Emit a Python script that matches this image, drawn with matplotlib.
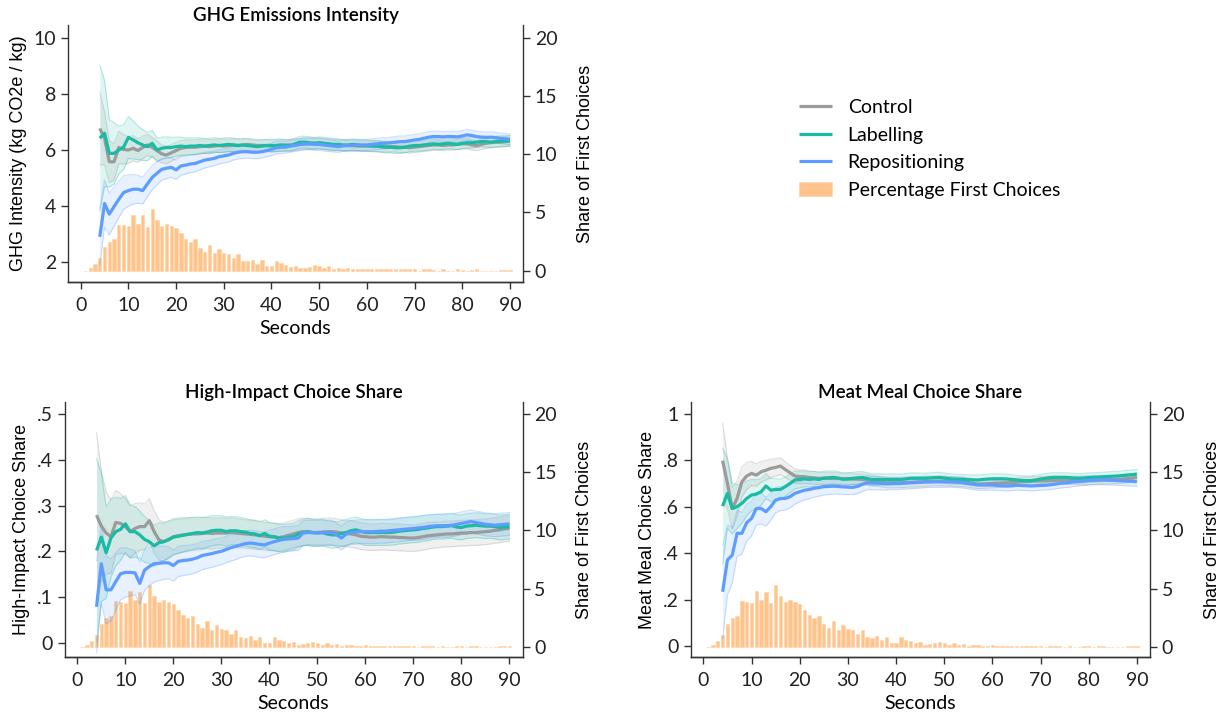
import numpy as np
import matplotlib
matplotlib.use('Agg')
import matplotlib.pyplot as plt

plt.rcParams['font.family'] = ['Lato', 'DejaVu Sans']

# seconds for the lines (4..90) and the bars (1..90)
secs = list(range(4, 91))
bar_secs = list(range(1, 91))

# percentage of first choices per second (same in each panel)
first_choices = [
    0.00, 0.20, 0.52, 1.06, 1.99, 2.47, 2.68, 3.94, 3.88, 3.80,
    4.78, 4.03, 4.75, 3.77, 5.32, 4.37, 3.83, 4.03, 3.83, 3.65,
    3.19, 2.73, 2.47, 2.68, 1.96, 1.61, 2.24, 1.47, 1.87, 1.53,
    1.44, 1.12, 1.44, 0.86, 0.78, 0.95, 0.60, 0.89, 0.35, 0.35,
    0.86, 0.63, 0.49, 0.32, 0.40, 0.20, 0.26, 0.32, 0.46, 0.35,
    0.20, 0.35, 0.15, 0.26, 0.09, 0.20, 0.17, 0.09, 0.12, 0.15,
    0.09, 0.12, 0.12, 0.09, 0.12, 0.12, 0.09, 0.12, 0.09, 0.12,
    0.00, 0.09, 0.09, 0.06, 0.00, 0.09, 0.00, 0.00, 0.09, 0.06,
    0.00, 0.06, 0.12, 0.00, 0.00, 0.00, 0.00, 0.06, 0.06, 0.06]

# ---- GHG emissions intensity ----
ghg_control = [
    6.77, 6.42, 5.58, 5.58, 6.09, 6.02, 6.00, 6.06, 5.98, 6.09,
    6.18, 6.09, 5.98, 5.86, 5.82, 5.90, 5.98, 6.06, 6.09, 6.10,
    6.10, 6.12, 6.14, 6.12, 6.14, 6.16, 6.14, 6.16, 6.18, 6.16,
    6.18, 6.20, 6.18, 6.16, 6.16, 6.16, 6.14, 6.16, 6.16, 6.18,
    6.18, 6.20, 6.20, 6.22, 6.22, 6.24, 6.24, 6.22, 6.20, 6.18,
    6.18, 6.16, 6.16, 6.16, 6.14, 6.14, 6.14, 6.14, 6.14, 6.12,
    6.12, 6.12, 6.12, 6.10, 6.10, 6.08, 6.10, 6.12, 6.14, 6.16,
    6.18, 6.18, 6.16, 6.18, 6.18, 6.20, 6.22, 6.22, 6.18, 6.16,
    6.20, 6.24, 6.26, 6.28, 6.28, 6.30, 6.32]
ghg_label = [
    6.42, 6.60, 5.88, 5.88, 6.00, 6.10, 6.45, 6.36, 6.26, 6.18,
    6.12, 6.24, 6.00, 6.06, 6.09, 6.09, 6.12, 6.14, 6.12, 6.14,
    6.14, 6.16, 6.14, 6.16, 6.18, 6.16, 6.18, 6.20, 6.18, 6.16,
    6.18, 6.16, 6.14, 6.12, 6.14, 6.16, 6.16, 6.16, 6.18, 6.16,
    6.16, 6.22, 6.28, 6.28, 6.26, 6.24, 6.26, 6.24, 6.22, 6.20,
    6.20, 6.18, 6.18, 6.20, 6.18, 6.16, 6.16, 6.14, 6.14, 6.12,
    6.10, 6.10, 6.08, 6.08, 6.10, 6.14, 6.16, 6.16, 6.18, 6.20,
    6.22, 6.20, 6.22, 6.24, 6.22, 6.20, 6.24, 6.26, 6.26, 6.28,
    6.30, 6.30, 6.28, 6.30, 6.32, 6.32, 6.33]
ghg_repos = [
    2.90, 4.09, 3.71, 3.98, 4.24, 4.48, 4.55, 4.60, 4.60, 4.55,
    4.79, 5.02, 5.17, 5.31, 5.35, 5.38, 5.29, 5.43, 5.46, 5.50,
    5.52, 5.58, 5.64, 5.67, 5.70, 5.76, 5.79, 5.82, 5.88, 5.92,
    5.94, 5.94, 5.92, 5.92, 5.94, 5.98, 6.02, 6.08, 6.10, 6.10,
    6.14, 6.16, 6.20, 6.22, 6.22, 6.20, 6.20, 6.18, 6.16, 6.14,
    6.12, 6.15, 6.16, 6.16, 6.18, 6.18, 6.18, 6.20, 6.22, 6.24,
    6.24, 6.26, 6.28, 6.30, 6.30, 6.33, 6.36, 6.38, 6.42, 6.46,
    6.48, 6.48, 6.47, 6.48, 6.48, 6.47, 6.50, 6.54, 6.52, 6.48,
    6.46, 6.45, 6.46, 6.44, 6.42, 6.40, 6.38]
# half-widths of the confidence bands
ghg_control_ci = [
    1.30, 0.95, 0.75, 0.65, 0.58, 0.52, 0.48, 0.45, 0.42, 0.40,
    0.38, 0.36, 0.34, 0.32, 0.31, 0.30, 0.29, 0.28, 0.27, 0.27,
    0.26, 0.26, 0.25, 0.25, 0.24, 0.24, 0.24, 0.23, 0.23, 0.23,
    0.22, 0.22, 0.22, 0.22, 0.21, 0.21, 0.21, 0.21, 0.21, 0.20,
    0.20, 0.20, 0.20, 0.20, 0.20, 0.20, 0.20, 0.20, 0.20, 0.20,
    0.20, 0.20, 0.19, 0.19, 0.19, 0.19, 0.19, 0.19, 0.19, 0.19,
    0.19, 0.19, 0.19, 0.19, 0.19, 0.19, 0.19, 0.19, 0.19, 0.19,
    0.19, 0.19, 0.18, 0.18, 0.18, 0.18, 0.18, 0.18, 0.18, 0.18,
    0.18, 0.18, 0.18, 0.18, 0.18, 0.18, 0.18]
ghg_label_ci = [
    2.60, 1.90, 1.20, 1.10, 0.85, 0.80, 0.75, 0.68, 0.60, 0.55,
    0.50, 0.46, 0.42, 0.40, 0.38, 0.36, 0.34, 0.32, 0.31, 0.30,
    0.29, 0.28, 0.27, 0.26, 0.26, 0.25, 0.25, 0.24, 0.24, 0.24,
    0.23, 0.23, 0.23, 0.22, 0.22, 0.22, 0.22, 0.22, 0.21, 0.21,
    0.21, 0.21, 0.21, 0.21, 0.21, 0.21, 0.21, 0.21, 0.21, 0.21,
    0.20, 0.20, 0.20, 0.20, 0.20, 0.20, 0.20, 0.20, 0.20, 0.20,
    0.20, 0.20, 0.20, 0.20, 0.20, 0.20, 0.20, 0.20, 0.20, 0.20,
    0.19, 0.19, 0.19, 0.19, 0.19, 0.19, 0.19, 0.19, 0.19, 0.19,
    0.19, 0.19, 0.19, 0.19, 0.19, 0.19, 0.19]
ghg_repos_ci = [
    1.00, 0.85, 0.75, 0.70, 0.65, 0.60, 0.56, 0.53, 0.50, 0.48,
    0.46, 0.43, 0.41, 0.39, 0.37, 0.35, 0.34, 0.33, 0.32, 0.31,
    0.30, 0.29, 0.28, 0.27, 0.26, 0.26, 0.25, 0.25, 0.24, 0.24,
    0.24, 0.23, 0.23, 0.23, 0.22, 0.22, 0.22, 0.22, 0.22, 0.21,
    0.21, 0.21, 0.21, 0.21, 0.21, 0.21, 0.21, 0.21, 0.21, 0.21,
    0.20, 0.20, 0.20, 0.20, 0.20, 0.20, 0.20, 0.20, 0.20, 0.20,
    0.20, 0.20, 0.20, 0.20, 0.20, 0.20, 0.20, 0.20, 0.20, 0.20,
    0.19, 0.19, 0.19, 0.19, 0.19, 0.19, 0.19, 0.19, 0.19, 0.19,
    0.19, 0.19, 0.19, 0.19, 0.19, 0.19, 0.19]

# ---- High-impact choice share ----
hi_control = [
    0.279, 0.255, 0.240, 0.232, 0.263, 0.261, 0.254, 0.243, 0.250, 0.254,
    0.254, 0.267, 0.243, 0.225, 0.221, 0.225, 0.232, 0.234, 0.236, 0.237,
    0.238, 0.238, 0.239, 0.240, 0.239, 0.240, 0.240, 0.240, 0.241, 0.240,
    0.239, 0.238, 0.237, 0.236, 0.235, 0.233, 0.232, 0.231, 0.230, 0.232,
    0.235, 0.238, 0.241, 0.243, 0.242, 0.241, 0.241, 0.242, 0.243, 0.243,
    0.242, 0.240, 0.239, 0.238, 0.236, 0.233, 0.232, 0.231, 0.231, 0.232,
    0.232, 0.231, 0.231, 0.230, 0.230, 0.229, 0.229, 0.230, 0.232, 0.234,
    0.235, 0.236, 0.237, 0.238, 0.238, 0.239, 0.240, 0.240, 0.241, 0.241,
    0.242, 0.243, 0.244, 0.246, 0.247, 0.249, 0.250]
hi_label = [
    0.202, 0.231, 0.197, 0.229, 0.243, 0.248, 0.260, 0.243, 0.243, 0.236,
    0.226, 0.221, 0.212, 0.219, 0.221, 0.226, 0.231, 0.233, 0.235, 0.237,
    0.239, 0.241, 0.240, 0.242, 0.245, 0.246, 0.246, 0.243, 0.245, 0.245,
    0.243, 0.242, 0.239, 0.238, 0.234, 0.239, 0.233, 0.232, 0.229, 0.229,
    0.231, 0.232, 0.238, 0.241, 0.243, 0.241, 0.240, 0.241, 0.238, 0.236,
    0.236, 0.239, 0.241, 0.245, 0.247, 0.244, 0.241, 0.241, 0.241, 0.241,
    0.241, 0.241, 0.242, 0.244, 0.245, 0.246, 0.247, 0.248, 0.250, 0.251,
    0.253, 0.254, 0.254, 0.255, 0.256, 0.253, 0.252, 0.255, 0.256, 0.257,
    0.256, 0.255, 0.255, 0.254, 0.252, 0.253, 0.254]
hi_repos = [
    0.079, 0.173, 0.116, 0.116, 0.134, 0.151, 0.154, 0.154, 0.153, 0.130,
    0.159, 0.167, 0.173, 0.174, 0.175, 0.175, 0.169, 0.178, 0.180, 0.181,
    0.183, 0.186, 0.191, 0.193, 0.195, 0.198, 0.200, 0.204, 0.208, 0.211,
    0.214, 0.217, 0.218, 0.217, 0.215, 0.214, 0.218, 0.221, 0.224, 0.226,
    0.227, 0.228, 0.229, 0.240, 0.241, 0.241, 0.241, 0.241, 0.241, 0.241,
    0.236, 0.229, 0.238, 0.241, 0.242, 0.243, 0.243, 0.243, 0.243, 0.244,
    0.244, 0.245, 0.246, 0.247, 0.248, 0.249, 0.250, 0.251, 0.252, 0.254,
    0.255, 0.256, 0.256, 0.256, 0.257, 0.259, 0.261, 0.263, 0.265, 0.263,
    0.261, 0.259, 0.258, 0.257, 0.258, 0.259, 0.260]
hi_control_ci = [
    0.180, 0.120, 0.090, 0.080, 0.070, 0.065, 0.060, 0.057, 0.054, 0.052,
    0.050, 0.048, 0.046, 0.044, 0.042, 0.041, 0.040, 0.039, 0.038, 0.037,
    0.036, 0.035, 0.035, 0.034, 0.034, 0.033, 0.033, 0.032, 0.032, 0.032,
    0.031, 0.031, 0.031, 0.031, 0.031, 0.030, 0.030, 0.030, 0.030, 0.030,
    0.030, 0.030, 0.030, 0.030, 0.030, 0.030, 0.030, 0.030, 0.030, 0.030,
    0.029, 0.029, 0.029, 0.029, 0.029, 0.029, 0.029, 0.029, 0.029, 0.029,
    0.029, 0.029, 0.029, 0.029, 0.029, 0.029, 0.029, 0.029, 0.029, 0.029,
    0.028, 0.028, 0.028, 0.028, 0.028, 0.028, 0.028, 0.028, 0.028, 0.028,
    0.028, 0.028, 0.028, 0.028, 0.028, 0.028, 0.028]
hi_label_ci = [
    0.200, 0.140, 0.100, 0.085, 0.075, 0.068, 0.062, 0.058, 0.055, 0.052,
    0.050, 0.047, 0.045, 0.043, 0.041, 0.040, 0.038, 0.037, 0.036, 0.035,
    0.035, 0.034, 0.034, 0.033, 0.033, 0.032, 0.032, 0.032, 0.031, 0.031,
    0.031, 0.030, 0.030, 0.030, 0.030, 0.030, 0.030, 0.030, 0.030, 0.030,
    0.029, 0.029, 0.029, 0.029, 0.029, 0.029, 0.029, 0.029, 0.029, 0.029,
    0.028, 0.028, 0.028, 0.028, 0.028, 0.028, 0.028, 0.028, 0.028, 0.028,
    0.028, 0.028, 0.028, 0.028, 0.028, 0.028, 0.028, 0.028, 0.028, 0.028,
    0.027, 0.027, 0.027, 0.027, 0.027, 0.027, 0.027, 0.027, 0.027, 0.027,
    0.027, 0.027, 0.027, 0.027, 0.027, 0.027, 0.027]
hi_repos_ci = [
    0.100, 0.085, 0.075, 0.068, 0.062, 0.057, 0.054, 0.051, 0.048, 0.046,
    0.044, 0.042, 0.040, 0.038, 0.036, 0.035, 0.034, 0.033, 0.033, 0.032,
    0.032, 0.031, 0.031, 0.030, 0.030, 0.030, 0.029, 0.029, 0.029, 0.029,
    0.028, 0.028, 0.028, 0.028, 0.028, 0.028, 0.028, 0.028, 0.028, 0.028,
    0.027, 0.027, 0.027, 0.027, 0.027, 0.027, 0.027, 0.027, 0.027, 0.027,
    0.026, 0.026, 0.026, 0.026, 0.026, 0.026, 0.026, 0.026, 0.026, 0.026,
    0.026, 0.026, 0.026, 0.026, 0.026, 0.026, 0.026, 0.026, 0.026, 0.026,
    0.025, 0.025, 0.025, 0.025, 0.025, 0.025, 0.025, 0.025, 0.025, 0.025,
    0.025, 0.025, 0.025, 0.025, 0.025, 0.025, 0.025]

# ---- Meat meal choice share ----
meat_control = [
    0.799, 0.701, 0.593, 0.636, 0.708, 0.733, 0.744, 0.737, 0.751, 0.758,
    0.766, 0.770, 0.776, 0.761, 0.747, 0.733, 0.730, 0.730, 0.727, 0.725,
    0.723, 0.723, 0.723, 0.722, 0.722, 0.721, 0.721, 0.720, 0.719, 0.718,
    0.716, 0.713, 0.711, 0.708, 0.704, 0.704, 0.704, 0.704, 0.705, 0.706,
    0.707, 0.708, 0.709, 0.710, 0.711, 0.711, 0.711, 0.710, 0.709, 0.708,
    0.707, 0.705, 0.702, 0.698, 0.699, 0.700, 0.701, 0.702, 0.703, 0.704,
    0.705, 0.706, 0.708, 0.709, 0.710, 0.711, 0.712, 0.713, 0.714, 0.714,
    0.715, 0.715, 0.715, 0.715, 0.714, 0.713, 0.714, 0.715, 0.716, 0.717,
    0.717, 0.718, 0.718, 0.720, 0.722, 0.724, 0.727]
meat_label = [
    0.603, 0.658, 0.593, 0.601, 0.615, 0.636, 0.651, 0.655, 0.665, 0.690,
    0.672, 0.675, 0.675, 0.687, 0.701, 0.716, 0.718, 0.721, 0.718, 0.721,
    0.718, 0.724, 0.725, 0.727, 0.724, 0.719, 0.720, 0.723, 0.725, 0.727,
    0.722, 0.718, 0.718, 0.718, 0.718, 0.718, 0.718, 0.718, 0.720, 0.723,
    0.723, 0.723, 0.723, 0.724, 0.726, 0.727, 0.724, 0.721, 0.720, 0.719,
    0.718, 0.717, 0.716, 0.716, 0.718, 0.720, 0.721, 0.721, 0.721, 0.720,
    0.718, 0.716, 0.714, 0.713, 0.713, 0.716, 0.720, 0.723, 0.726, 0.727,
    0.727, 0.727, 0.726, 0.724, 0.723, 0.724, 0.726, 0.727, 0.728, 0.729,
    0.731, 0.732, 0.733, 0.735, 0.737, 0.739, 0.741]
meat_repos = [
    0.234, 0.371, 0.392, 0.486, 0.486, 0.532, 0.550, 0.593, 0.593, 0.579,
    0.601, 0.629, 0.636, 0.636, 0.644, 0.658, 0.665, 0.672, 0.675, 0.680,
    0.683, 0.687, 0.688, 0.689, 0.688, 0.686, 0.685, 0.684, 0.688, 0.697,
    0.704, 0.703, 0.702, 0.701, 0.700, 0.701, 0.701, 0.702, 0.703, 0.704,
    0.705, 0.706, 0.708, 0.708, 0.708, 0.708, 0.708, 0.708, 0.707, 0.706,
    0.704, 0.700, 0.697, 0.694, 0.694, 0.694, 0.694, 0.692, 0.691, 0.690,
    0.691, 0.693, 0.692, 0.691, 0.690, 0.691, 0.692, 0.693, 0.695, 0.698,
    0.701, 0.703, 0.705, 0.708, 0.710, 0.712, 0.714, 0.715, 0.716, 0.716,
    0.715, 0.714, 0.713, 0.712, 0.711, 0.710, 0.708]
meat_control_ci = [
    0.160, 0.110, 0.090, 0.075, 0.065, 0.058, 0.052, 0.048, 0.045, 0.042,
    0.040, 0.038, 0.036, 0.034, 0.032, 0.031, 0.030, 0.029, 0.028, 0.027,
    0.027, 0.026, 0.026, 0.025, 0.025, 0.024, 0.024, 0.024, 0.023, 0.023,
    0.023, 0.023, 0.022, 0.022, 0.022, 0.022, 0.022, 0.021, 0.021, 0.021,
    0.021, 0.021, 0.021, 0.020, 0.020, 0.020, 0.020, 0.020, 0.020, 0.020,
    0.020, 0.020, 0.020, 0.019, 0.019, 0.019, 0.019, 0.019, 0.019, 0.019,
    0.019, 0.019, 0.019, 0.019, 0.019, 0.019, 0.019, 0.019, 0.019, 0.019,
    0.018, 0.018, 0.018, 0.018, 0.018, 0.018, 0.018, 0.018, 0.018, 0.018,
    0.018, 0.018, 0.018, 0.018, 0.018, 0.018, 0.018]
meat_label_ci = [
    0.250, 0.150, 0.110, 0.095, 0.085, 0.075, 0.068, 0.062, 0.058, 0.054,
    0.050, 0.047, 0.044, 0.042, 0.040, 0.038, 0.036, 0.034, 0.033, 0.032,
    0.031, 0.030, 0.029, 0.028, 0.028, 0.027, 0.027, 0.026, 0.026, 0.025,
    0.025, 0.025, 0.024, 0.024, 0.024, 0.024, 0.023, 0.023, 0.023, 0.023,
    0.023, 0.022, 0.022, 0.022, 0.022, 0.022, 0.022, 0.022, 0.021, 0.021,
    0.021, 0.021, 0.021, 0.021, 0.021, 0.021, 0.021, 0.021, 0.021, 0.021,
    0.020, 0.020, 0.020, 0.020, 0.020, 0.020, 0.020, 0.020, 0.020, 0.020,
    0.020, 0.020, 0.020, 0.020, 0.020, 0.020, 0.020, 0.020, 0.020, 0.020,
    0.020, 0.020, 0.020, 0.020, 0.020, 0.020, 0.020]
meat_repos_ci = [
    0.200, 0.150, 0.120, 0.100, 0.090, 0.080, 0.075, 0.070, 0.066, 0.062,
    0.058, 0.055, 0.052, 0.050, 0.048, 0.046, 0.044, 0.042, 0.040, 0.038,
    0.037, 0.036, 0.035, 0.034, 0.033, 0.032, 0.032, 0.031, 0.031, 0.030,
    0.030, 0.029, 0.029, 0.028, 0.028, 0.027, 0.027, 0.026, 0.026, 0.026,
    0.025, 0.025, 0.025, 0.024, 0.024, 0.024, 0.024, 0.023, 0.023, 0.023,
    0.023, 0.022, 0.022, 0.022, 0.022, 0.022, 0.022, 0.021, 0.021, 0.021,
    0.021, 0.021, 0.021, 0.021, 0.021, 0.021, 0.020, 0.020, 0.020, 0.020,
    0.020, 0.020, 0.020, 0.020, 0.020, 0.020, 0.020, 0.020, 0.020, 0.020,
    0.020, 0.020, 0.020, 0.020, 0.020, 0.020, 0.020]

c_control = '#9b9b9b'
c_label = '#19bba4'
c_repos = '#5f9cff'
c_bar = '#ffc48c'

x_ticks = [0, 10, 20, 30, 40, 50, 60, 70, 80, 90]
share_ticks = [0, 5, 10, 15, 20]

panels = [
    dict(rect=[0.0555, 0.6083, 0.3714, 0.357], title='GHG Emissions Intensity',
         ylabel='GHG Intensity (kg CO2e / kg)', ylim=(1.286, 10.464), yr=(-0.99, 21.15),
         yticks=[2, 4, 6, 8, 10], yticklabels=['2', '4', '6', '8', '10'],
         series=[(ghg_control, ghg_control_ci), (ghg_label, ghg_label_ci), (ghg_repos, ghg_repos_ci)]),
    dict(rect=[0.0527, 0.0875, 0.3739, 0.3542], title='High-Impact Choice Share',
         ylabel='High-Impact Choice Share', ylim=(-0.0306, 0.526), yr=(-0.86, 21.03),
         yticks=[0, .1, .2, .3, .4, .5], yticklabels=['0', '.1', '.2', '.3', '.4', '.5'],
         series=[(hi_control, hi_control_ci), (hi_label, hi_label_ci), (hi_repos, hi_repos_ci)]),
    dict(rect=[0.5637, 0.0875, 0.3751, 0.3542], title='Meat Meal Choice Share',
         ylabel='Meat Meal Choice Share', ylim=(-0.047, 1.052), yr=(-0.86, 21.03),
         yticks=[0, .2, .4, .6, .8, 1], yticklabels=['0', '.2', '.4', '.6', '.8', '1'],
         series=[(meat_control, meat_control_ci), (meat_label, meat_label_ci), (meat_repos, meat_repos_ci)]),
]
colors = [c_control, c_label, c_repos]
names = ['Control', 'Labelling', 'Repositioning']

fig = plt.figure(figsize=(12.25, 7.2), dpi=100)
handles = None
x = np.array(secs)

for p in panels:
    ax = fig.add_axes(p['rect'])
    ax2 = ax.twinx()
    ax.set_zorder(ax2.get_zorder() + 1)
    ax.patch.set_visible(False)

    bars = ax2.bar(bar_secs, first_choices, width=0.7, color=c_bar,
                   edgecolor='#ffd3a8', linewidth=0.5)
    ax2.set_ylim(*p['yr'])
    ax2.set_yticks(share_ticks)
    ax2.set_ylabel('Share of First Choices', family=['Liberation Sans', 'DejaVu Sans'],
                   fontsize=13, labelpad=14)

    lines = []
    for (vals, ci), col in zip(p['series'], colors):
        v = np.array(vals)
        c = np.array(ci)
        ax.fill_between(x, v - c, v + c, color=col, alpha=0.14, linewidth=0)
        ax.plot(x, v - c, color=col, alpha=0.3, lw=0.8)
        ax.plot(x, v + c, color=col, alpha=0.3, lw=0.8)
    for (vals, ci), col, nm in zip(p['series'], colors, names):
        ln, = ax.plot(x, vals, color=col, lw=2.3, label=nm, solid_capstyle='butt')
        lines.append(ln)

    ax.set_xlim(-2.66, 92.73)
    ax.set_ylim(*p['ylim'])
    ax.set_xticks(x_ticks)
    ax.set_yticks(p['yticks'])
    ax.set_yticklabels(p['yticklabels'])
    ax.set_xlabel('Seconds', fontsize=14, labelpad=4)
    ax.set_ylabel(p['ylabel'], family=['Liberation Sans', 'DejaVu Sans'], fontsize=13, labelpad=5)
    ax.set_title(p['title'], fontsize=13.5, fontweight='semibold', pad=3)

    for a in (ax, ax2):
        a.spines['top'].set_visible(False)
        for s in ('left', 'right', 'bottom'):
            a.spines[s].set_linewidth(1.0)
            a.spines[s].set_color('#333333')
        a.tick_params(direction='out', length=5, width=1, color='#333333',
                      labelsize=14, labelcolor='#222222')
    ax.tick_params(axis='x', pad=6)
    ax2.spines['left'].set_visible(False)
    ax.spines['right'].set_visible(False)

    if handles is None:
        handles = lines + [bars]

fig.legend(handles, names + ['Percentage First Choices'], loc='upper left',
           bbox_to_anchor=(0.638, 0.887), frameon=False, fontsize=14,
           handlelength=1.7, handletextpad=0.8, labelspacing=0.55)

fig.savefig('out.png', dpi=100)
